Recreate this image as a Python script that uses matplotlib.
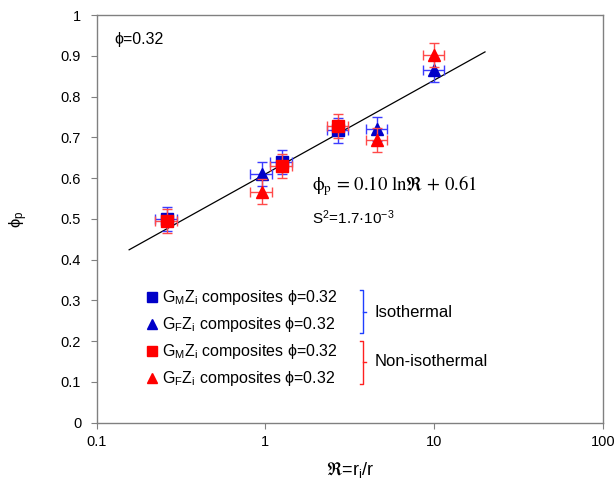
import matplotlib
matplotlib.use("Agg")
import matplotlib.pyplot as plt
import numpy as np

plt.rcParams["font.family"] = ["Liberation Sans", "DejaVu Sans", "STIXGeneral"]
plt.rcParams["mathtext.fontset"] = "custom"
plt.rcParams["mathtext.rm"] = "Liberation Sans"
plt.rcParams["mathtext.it"] = "Liberation Sans:italic"
plt.rcParams["mathtext.bf"] = "Liberation Sans:bold"
plt.rcParams["mathtext.fallback"] = "stix"

# data
r_square = [0.26, 1.25, 2.7]
r_square_err = [0.038, 0.18, 0.39]
r_triangle = [0.95, 4.6, 10.0]
r_triangle_err = [0.14, 0.68, 1.45]

phi_iso_square = [0.50, 0.64, 0.717]
phi_iso_triangle = [0.61, 0.72, 0.865]
phi_noniso_square = [0.495, 0.63, 0.728]
phi_noniso_triangle = [0.567, 0.693, 0.902]
phi_err = 0.03

# fitted trend: phi_p = 0.10 ln R + 0.61
fit_a, fit_b = 0.10, 0.61
fit_range = [0.156, 20.0]

labels = [
    r"G$_\mathrm{M}$Z$_\mathrm{i}$ composites ϕ=0.32",
    r"G$_\mathrm{F}$Z$_\mathrm{i}$ composites ϕ=0.32",
    r"G$_\mathrm{M}$Z$_\mathrm{i}$ composites ϕ=0.32",
    r"G$_\mathrm{F}$Z$_\mathrm{i}$ composites ϕ=0.32",
]

BLUE = "#0000c8"
BLUE_ERR = "#3c3cff"
RED = "#ff0000"
RED_ERR = "#ff4a4a"

fig = plt.figure(figsize=(6.16, 4.90), dpi=100)
ax = fig.add_axes([0.1567, 0.1373, 0.8222, 0.832])

# trend line
xs = np.geomspace(fit_range[0], fit_range[1], 100)
ax.plot(xs, fit_a * np.log(xs) + fit_b, color="black", lw=0.9, zorder=1)

series = [
    (r_square, r_square_err, phi_iso_square, "s", BLUE, BLUE_ERR),
    (r_triangle, r_triangle_err, phi_iso_triangle, "^", BLUE, BLUE_ERR),
    (r_square, r_square_err, phi_noniso_square, "s", RED, RED_ERR),
    (r_triangle, r_triangle_err, phi_noniso_triangle, "^", RED, RED_ERR),
]
handles = []
for i, (x, xe, y, m, c, ce) in enumerate(series):
    cont = ax.errorbar(x, y, xerr=xe, yerr=phi_err, fmt=m, color=c, ecolor=ce,
                       ms=9, mec=c, elinewidth=1.0, capsize=3.5, capthick=1.0,
                       zorder=2 + i)
    handles.append(cont.lines[0])

ax.set_xscale("log")
ax.set_xlim(0.1, 100)
ax.set_ylim(0, 1)
ax.set_xticks([0.1, 1, 10, 100])
ax.set_xticklabels(["0.1", "1", "10", "100"])
ax.xaxis.set_minor_locator(matplotlib.ticker.NullLocator())
ax.set_yticks(np.arange(0, 1.01, 0.1))
ax.set_yticklabels(["0"] + [f"{v:.1f}" for v in np.arange(0.1, 0.95, 0.1)] + ["1"])

for spine in ax.spines.values():
    spine.set_color("#808080")
    spine.set_linewidth(1.0)
ax.tick_params(axis="both", direction="out", length=4, width=0.8, color="#808080",
               labelsize=10.5, labelcolor="black")
ax.tick_params(axis="y", pad=7)
ax.tick_params(axis="x", pad=5)

ax.set_xlabel(r"$\Re$=r$_\mathrm{i}$/r", fontsize=13, labelpad=8)
ax.set_ylabel(r"ϕ$_\mathrm{p}$", fontsize=12, labelpad=22)

# annotations
ax.text(0.0345, 0.939, "ϕ=0.32", transform=ax.transAxes, fontsize=11.5,
        va="center", ha="left")
ax.text(0.4255, 0.581, r"ϕ$_\mathrm{p}$ = 0.10 lnℜ + 0.61",
        transform=ax.transAxes, fontsize=13.5, va="center", ha="left",
        family="STIXGeneral", math_fontfamily="stix")
ax.text(0.4255, 0.502, r"S$^2$=1.7·10$^{-3}$", transform=ax.transAxes,
        fontsize=11, va="center", ha="left")

ax.legend(handles, labels, loc="upper left", bbox_to_anchor=(0.098, 0.33),
          frameon=False, fontsize=11.5, markerscale=0.8, handlelength=0.7,
          handletextpad=0.3, labelspacing=0.5, borderpad=0, borderaxespad=0)

# group brackets
def bracket(y0, y1, color):
    xa, xv, xt = 0.520, 0.527, 0.532
    ym = (y0 + y1) / 2
    ax.plot([xa, xv, xv, xa], [y0, y0, y1, y1], color=color, lw=1.0,
            transform=ax.transAxes, clip_on=False)
    ax.plot([xv, xt], [ym, ym], color=color, lw=1.0, transform=ax.transAxes,
            clip_on=False)

bracket(0.3255, 0.22, "#1f3fff")
bracket(0.201, 0.095, "#ff2020")
ax.text(0.548, 0.2715, "Isothermal", transform=ax.transAxes, fontsize=12,
        va="center", ha="left")
ax.text(0.55, 0.149, "Non-isothermal", transform=ax.transAxes, fontsize=12,
        va="center", ha="left")

fig.savefig("out.png", dpi=100)
